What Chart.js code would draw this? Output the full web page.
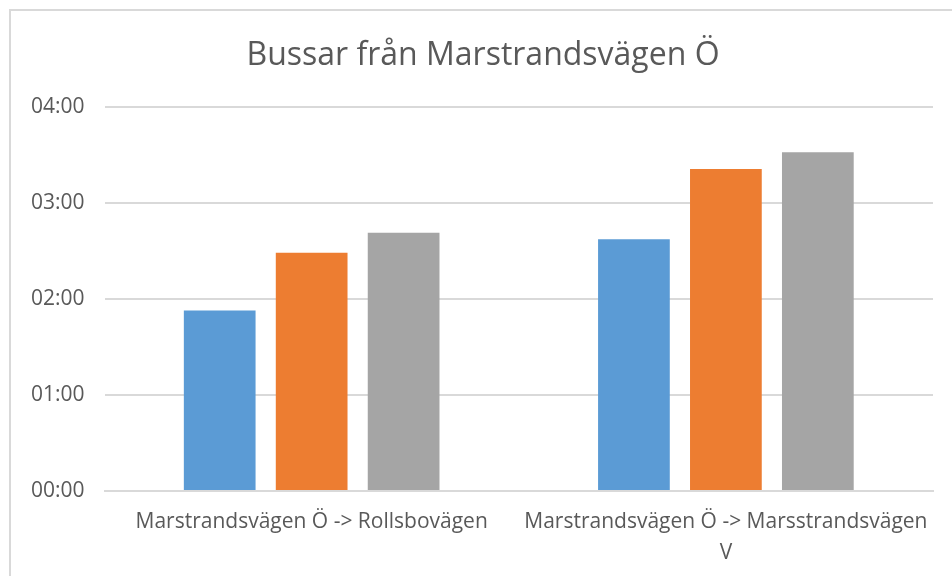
<!DOCTYPE html>
<html>
<head>
<meta charset="utf-8">
<script src="https://cdn.jsdelivr.net/npm/chart.js@4"></script>
<style>
  html, body { margin: 0; padding: 0; background: #fff; overflow: hidden; }
  #wrap { position: relative; width: 952px; height: 576px; }
  #frame {
    position: absolute; left: 9px; top: 9px; width: 1000px; height: 700px;
    border: 2px solid #d9d9d9; box-sizing: border-box; pointer-events: none;
  }
</style>
</head>
<body>
<div id="wrap">
  <canvas id="busChart" width="952" height="576"></canvas>
  <div id="frame"></div>
</div>
<script>
// Restider i minuter, visas som HH:MM
const categories = [
    'Marstrandsvägen Ö -> Rollsbovägen',
    ['Marstrandsvägen Ö -> Marsstrandsvägen', 'V']
];
const serie1 = [113, 157.5];
const serie2 = [149, 201.5];
const serie3 = [161.5, 212];
const yTicks = [0, 60, 120, 180, 240];

const textColor = '#595959';
const gridColor = '#d9d9d9';
const fontFamily = "'Open Sans', sans-serif";

function toClock(min) {
    const h = Math.floor(min / 60);
    const m = Math.round(min % 60);
    return String(h).padStart(2, '0') + ':' + String(m).padStart(2, '0');
}

function makeDataset(label, data, color) {
    return {
        label: label,
        data: data,
        backgroundColor: color,
        borderWidth: 0,
        categoryPercentage: 0.666,
        barPercentage: 0.78
    };
}

// Excel centrerar rubriken över hela ramen, som går lite utanför bilden
const titleShift = {
    id: 'titleShift',
    afterLayout(chart) {
        const t = chart.titleBlock;
        if (t) {
            t.left += 11;
            t.right += 11;
        }
    }
};

const ctx = document.getElementById('busChart').getContext('2d');
new Chart(ctx, {
    type: 'bar',
    data: {
        labels: categories,
        datasets: [
            makeDataset('Serie 1', serie1, '#5B9BD5'),
            makeDataset('Serie 2', serie2, '#ED7D31'),
            makeDataset('Serie 3', serie3, '#A5A5A5')
        ]
    },
    plugins: [titleShift],
    options: {
        responsive: false,
        animation: false,
        layout: {
            padding: { left: 11, right: 19, top: 0, bottom: 0 }
        },
        plugins: {
            legend: { display: false },
            tooltip: { enabled: false },
            title: {
                display: true,
                text: 'Bussar från Marstrandsvägen Ö',
                color: textColor,
                font: { family: fontFamily, size: 32, weight: 'normal' },
                padding: { top: 37, bottom: 32 }
            }
        },
        scales: {
            x: {
                grid: { display: false, drawTicks: false },
                border: { display: true, color: gridColor, width: 2 },
                afterFit: (scale) => { scale.height = 85; },
                ticks: {
                    color: textColor,
                    padding: 16,
                    maxRotation: 0,
                    font: { family: fontFamily, size: 21, lineHeight: 1.45 }
                }
            },
            y: {
                min: 0,
                max: 240,
                afterBuildTicks: (scale) => {
                    scale.ticks = yTicks.map(v => ({ value: v }));
                },
                grid: { color: gridColor, lineWidth: 2, drawTicks: false },
                border: { display: false },
                ticks: {
                    color: textColor,
                    padding: 20,
                    font: { family: fontFamily, size: 21 },
                    callback: (v) => toClock(v)
                }
            }
        }
    }
});
</script>
</body>
</html>
